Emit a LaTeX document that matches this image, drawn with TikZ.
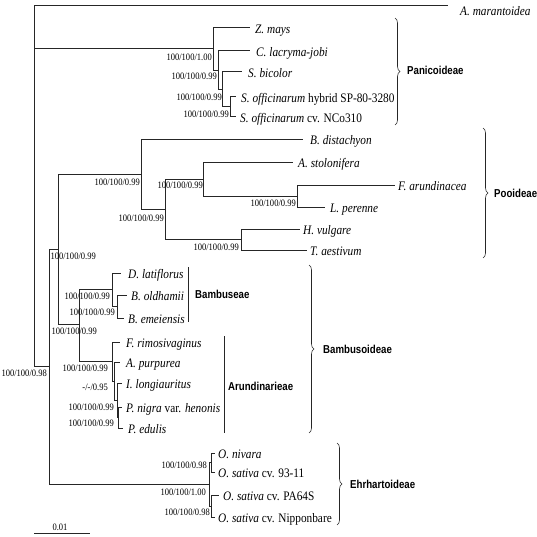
\documentclass[tikz,border=0pt]{standalone}
\usepackage{fontspec}
\setmainfont{Liberation Serif}[FakeStretch=0.87]
\newfontfamily\cladefont{Liberation Sans}[FakeStretch=0.84]
\usetikzlibrary{decorations.pathreplacing}
\begin{document}
\begin{tikzpicture}[x=1pt,y=-1pt,
  br/.style={line width=0.7pt, draw=black!85},
  leaf/.style={anchor=base west, inner sep=0pt, font=\fontsize{13}{15}\selectfont},
  supp/.style={anchor=east, inner sep=0pt, font=\fontsize{9.8}{11}\selectfont},
  clade/.style={anchor=west, inner sep=0pt, font=\cladefont\bfseries\fontsize{11.5}{13}\selectfont},
  bar/.style={line width=0.7pt, draw=black!85},
  bracebar/.style={line width=0.6pt, draw=black!85, decorate, decoration={brace, amplitude=5pt}},
  ]
\useasboundingbox (0,0) rectangle (537,537);

% ---------- internal nodes ----------
\coordinate (R)    at (34.3,5.7);
\coordinate (P1)   at (213.3,48.8);
\coordinate (P2)   at (218.3,70);
\coordinate (P3)   at (222.7,89.2);
\coordinate (P4)   at (230,106.7);
\coordinate (BEP)  at (49,366.5);
\coordinate (PB)   at (58.7,249);
\coordinate (Poo)  at (141.7,174);
\coordinate (Q2)   at (165.7,209);
\coordinate (Q3)   at (203,179);
\coordinate (Q4)   at (297,196);
\coordinate (Q5)   at (241,239.5);
\coordinate (Bam)  at (79,324.5);
\coordinate (Bmb)  at (112,289.5);
\coordinate (Bsub) at (117,306.5);
\coordinate (Ar)   at (112,361.5);
\coordinate (ArB)  at (114,381);
\coordinate (ArC)  at (117,400);
\coordinate (ArD)  at (118,417.5);
\coordinate (E)    at (209,484);
\coordinate (O1)   at (211,462.5);
\coordinate (O2)   at (211,506);

% ---------- tips ----------
\coordinate (Am)  at (448,5.7);
\coordinate (Zm)  at (250,27.7);
\coordinate (Cl)  at (250,50.7);
\coordinate (Sb)  at (242,71.7);
\coordinate (So1) at (236,96.7);
\coordinate (So2) at (236,116.7);
\coordinate (Bd)  at (303,139);
\coordinate (As)  at (293,162);
\coordinate (Fa)  at (395,185);
\coordinate (Lp)  at (325,207);
\coordinate (Hv)  at (300,229);
\coordinate (Ta)  at (307,250);
\coordinate (Dl)  at (121,273);
\coordinate (Bo)  at (127,295);
\coordinate (Be)  at (124,318);
\coordinate (Fr)  at (120,342);
\coordinate (Ap)  at (120,362);
\coordinate (Il)  at (122,383);
\coordinate (Pn)  at (122,407);
\coordinate (Pe)  at (123,428);
\coordinate (On)  at (215,453);
\coordinate (Os1) at (215,472);
\coordinate (Os2) at (219,495);
\coordinate (Os3) at (215,517);

% ---------- branches ----------
\draw[br] (R) |- (Am);
\draw[br] (R) |- (P1);
\draw[br] (R) |- (BEP);
\draw[br] (P1) |- (Zm);
\draw[br] (P1) |- (P2);
\draw[br] (P2) |- (Cl);
\draw[br] (P2) |- (P3);
\draw[br] (P3) |- (Sb);
\draw[br] (P3) |- (P4);
\draw[br] (P4) |- (So1);
\draw[br] (P4) |- (So2);
\draw[br] (BEP) |- (PB);
\draw[br] (BEP) |- (E);
\draw[br] (PB) |- (Poo);
\draw[br] (PB) |- (Bam);
\draw[br] (Poo) |- (Bd);
\draw[br] (Poo) |- (Q2);
\draw[br] (Q2) |- (Q3);
\draw[br] (Q2) |- (Q5);
\draw[br] (Q3) |- (As);
\draw[br] (Q3) |- (Q4);
\draw[br] (Q4) |- (Fa);
\draw[br] (Q4) |- (Lp);
\draw[br] (Q5) |- (Hv);
\draw[br] (Q5) |- (Ta);
\draw[br] (Bam) |- (Bmb);
\draw[br] (Bam) |- (Ar);
\draw[br] (Bmb) |- (Dl);
\draw[br] (Bmb) |- (Bsub);
\draw[br] (Bsub) |- (Bo);
\draw[br] (Bsub) |- (Be);
\draw[br] (Ar) |- (Fr);
\draw[br] (Ar) |- (ArB);
\draw[br] (ArB) |- (Ap);
\draw[br] (ArB) |- (ArC);
\draw[br] (ArC) |- (Il);
\draw[br] (ArC) |- (ArD);
\draw[br] (ArD) |- (Pn);
\draw[br] (ArD) |- (Pe);
\draw[br] (E) |- (O1);
\draw[br] (E) |- (O2);
\draw[br] (O1) |- (On);
\draw[br] (O1) |- (Os1);
\draw[br] (O2) |- (Os2);
\draw[br] (O2) |- (Os3);

% ---------- leaf names ----------
\node[leaf] (tAm)  at (460,16)    {\textit{A. marantoidea}};
\node[leaf] (tZm)  at (255,33.3)  {\textit{Z. mays}};
\node[leaf] (tCl)  at (256,56.3)  {\textit{C. lacryma-jobi}};
\node[leaf] (tSb)  at (248,77.3)  {\textit{S. bicolor}};
\node[leaf] (tSo1) at (241,102.3) {\textit{S. officinarum} hybrid SP-80-3280};
\node[leaf] (tSo2) at (240,122.3) {\textit{S. officinarum} cv. NCo310};
\node[leaf] (tBd)  at (310,144.6) {\textit{B. distachyon}};
\node[leaf] (tAs)  at (298,167.6) {\textit{A. stolonifera}};
\node[leaf] (tFa)  at (398,190.6) {\textit{F. arundinacea}};
\node[leaf] (tLp)  at (330,212.6) {\textit{L. perenne}};
\node[leaf] (tHv)  at (303,234.6) {\textit{H. vulgare}};
\node[leaf] (tTa)  at (310,255.6) {\textit{T. aestivum}};
\node[leaf] (tDl)  at (128,278.6) {\textit{D. latiflorus}};
\node[leaf] (tBo)  at (131,300.6) {\textit{B. oldhamii}};
\node[leaf] (tBe)  at (128,323.6) {\textit{B. emeiensis}};
\node[leaf] (tFr)  at (126,347.6) {\textit{F. rimosivaginus}};
\node[leaf] (tAp)  at (126,367.6) {\textit{A. purpurea}};
\node[leaf] (tIl)  at (126,388.6) {\textit{I. longiauritus}};
\node[leaf] (tPn)  at (126,412.6) {\textit{P. nigra} var. \textit{henonis}};
\node[leaf] (tPe)  at (128,433.6) {\textit{P. edulis}};
\node[leaf] (tOn)  at (218,458.6) {\textit{O. nivara}};
\node[leaf] (tOs1) at (218,477.6) {\textit{O. sativa} cv. 93-11};
\node[leaf] (tOs2) at (223,500.6) {\textit{O. sativa} cv. PA64S};
\node[leaf] (tOs3) at (218,522.6) {\textit{O. sativa} cv. Nipponbare};

% ---------- support values ----------
\node[supp] (sR)    at (47,373)   {100/100/0.98};
\node[supp] (sP1)   at (212,57)   {100/100/1.00};
\node[supp] (sP2)   at (217,76)   {100/100/0.99};
\node[supp] (sP3)   at (222,97)   {100/100/0.99};
\node[supp] (sP4)   at (229,114)  {100/100/0.99};
\node[supp] (sPB)   at (96,256)   {100/100/0.99};
\node[supp] (sPoo)  at (140,182)  {100/100/0.99};
\node[supp] (sQ2)   at (164,218)  {100/100/0.99};
\node[supp] (sQ3)   at (203,185)  {100/100/0.99};
\node[supp] (sQ4)   at (296,203)  {100/100/0.99};
\node[supp] (sQ5)   at (239,247)  {100/100/0.99};
\node[supp] (sBam)  at (97,331)   {100/100/0.99};
\node[supp] (sBmb)  at (110,296)  {100/100/0.99};
\node[supp] (sBsub) at (115,312)  {100/100/0.99};
\node[supp] (sAr)   at (108,368)  {100/100/0.99};
\node[supp] (sArB)  at (108,387)  {-/-/0.95};
\node[supp] (sArC)  at (114,407)  {100/100/0.99};
\node[supp] (sArD)  at (114,423)  {100/100/0.99};
\node[supp] (sO1)   at (207,465)  {100/100/0.98};
\node[supp] (sE)    at (206,492)  {100/100/1.00};
\node[supp] (sO2)   at (210,512)  {100/100/0.98};

% ---------- tribe bars ----------
\coordinate (bb1) at (188,267);
\coordinate (bb2) at (188,322);
\draw[bar] (bb1) -- (bb2);
\node[clade] (tBmb) at (195,294) {Bambuseae};
\coordinate (ab1) at (224,336);
\coordinate (ab2) at (224,433);
\draw[bar] (ab1) -- (ab2);
\node[clade] (tAr) at (228,386) {Arundinarieae};

% ---------- subfamily braces ----------
\coordinate (pb1) at (395,18);
\coordinate (pb2) at (395,125);
\draw[bracebar] (pb1) -- (pb2);
\node[clade] (tPan) at (407,70) {Panicoideae};
\coordinate (qb1) at (483,128);
\coordinate (qb2) at (483,258);
\draw[bracebar] (qb1) -- (qb2);
\node[clade] (tPoo) at (494,193) {Pooideae};
\coordinate (mb1) at (309,265);
\coordinate (mb2) at (309,433);
\draw[bracebar] (mb1) -- (mb2);
\node[clade] (tBam) at (323,349) {Bambusoideae};
\coordinate (eb1) at (337,443);
\coordinate (eb2) at (337,525);
\draw[bracebar] (eb1) -- (eb2);
\node[clade] (tEhr) at (350,484) {Ehrhartoideae};

% ---------- scale bar ----------
\coordinate (s1) at (34,533);
\coordinate (s2) at (90,533);
\draw[bar] (s1) -- (s2);
\node[anchor=base, inner sep=0pt, font=\fontsize{9.8}{11}\selectfont] (sc) at (60,530) {0.01};
\end{tikzpicture}
\end{document}
